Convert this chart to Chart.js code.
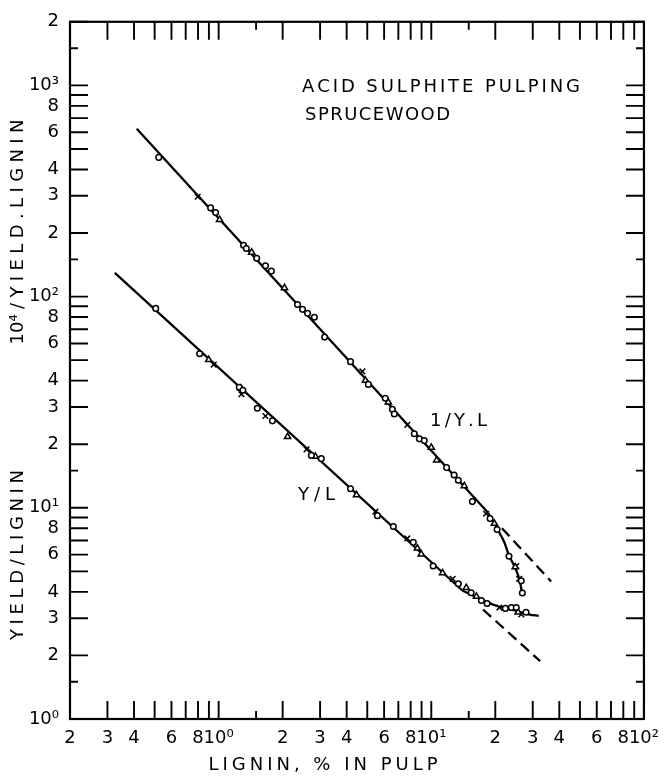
<!DOCTYPE html>
<html><head><meta charset="utf-8">
<script src="https://cdn.jsdelivr.net/npm/chart.js@4.4.1/dist/chart.umd.min.js"></script>
<style>html,body{margin:0;padding:0;background:#fff;}canvas{display:block;}</style>
</head><body>
<canvas id="c" width="668" height="778"></canvas>
<script>
// ---------- axis ticks ----------
const xTickValues = [0.2,0.3,0.4,0.5,0.6,0.7,0.8,0.9,1,1.5,2,3,4,5,6,7,8,9,10,15,20,30,40,50,60,70,80,90,100];
const xTickLabels = {"0.2":"2","0.3":"3","0.4":"4","0.6":"6","0.8":"8","1":"10\u2070","2":"2","3":"3","4":"4","6":"6","8":"8","10":"10\u00B9","20":"2","30":"3","40":"4","60":"6","80":"8","100":"10\u00B2"};
const yTickValues = [1,1.5,2,3,4,5,6,7,8,9,10,15,20,30,40,50,60,70,80,90,100,150,200,300,400,500,600,700,800,900,1000,1500,2000];
const yTickLabels = {"1":"10\u2070","2":"2","3":"3","4":"4","6":"6","8":"8","10":"10\u00B9","20":"2","30":"3","40":"4","60":"6","80":"8","100":"10\u00B2","200":"2","300":"3","400":"4","600":"6","800":"8","1000":"10\u00B3","2000":"2"};
const shortTicks = [1.5,15,150,1500];

// ---------- 1/Y.L  (10^4 / yield.lignin) ----------
const invCircleX = [0.523,0.917,0.968,1.31,1.35,1.51,1.66,1.77,2.35,2.48,2.62,2.82,3.15,4.17,5.06,6.08,6.56,6.70,8.32,8.79,9.27,11.8,12.8,13.4,15.6,18.9,20.4,23.2,26.5,26.8];
const invCircleY = [456,263,250,175,169,152,140,132,91.8,87.0,83.3,79.8,64.3,49.2,38.4,33.0,29.3,27.8,22.4,21.2,20.8,15.5,14.3,13.5,10.7,8.89,7.89,5.90,4.51,3.95];
const invTriX = [1.01,1.43,2.04,4.90,6.28,10.0,10.6,14.3,19.8,24.8];
const invTriY = [231,162,110,40.1,31.6,19.3,16.8,12.7,8.42,5.24];
const invCrossX = [0.797,4.74,7.71,18.1,25.1,25.9];
const invCrossY = [297,44.2,24.7,9.37,5.30,4.61];
const invFitX = [0.412,18.5];
const invFitY = [623,9.48];
const invDashX = [21.5,36.6];
const invDashY = [8.0,4.48];
const invCurveX = [18.5,20.4,22.0,23.2,25.0,26.0,26.8];
const invCurveY = [9.48,7.95,6.9,5.95,5.1,4.55,3.9];

// ---------- Y/L  (yield/lignin) ----------
const ylCircleX = [0.506,0.814,1.25,1.30,1.52,1.79,2.73,3.04,4.17,5.58,6.63,8.23,10.2,13.4,15.4,17.2,18.3,22.3,23.8,25.1,27.9];
const ylCircleY = [87.9,53.6,37.2,36.0,29.6,25.8,17.7,17.1,12.3,9.18,8.15,6.86,5.30,4.37,3.96,3.64,3.52,3.34,3.37,3.37,3.20];
const ylTriX = [0.898,1.27,2.11,2.85,4.45,8.60,8.97,11.3,14.6,16.3,25.6];
const ylTriY = [50.2,36.8,21.7,17.5,11.5,6.43,6.03,4.91,4.18,3.80,3.20];
const ylCrossX = [0.948,1.28,1.66,2.59,5.46,7.71,12.6,20.9,26.5];
const ylCrossY = [47.6,34.5,27.2,18.9,9.58,7.16,4.61,3.37,3.13];
const ylFitX = [0.325,14];
const ylFitY = [129.5,4.06];
const ylDashX = [17.5,32.5];
const ylDashY = [3.30,1.88];
const ylCurveX = [14,17.2,20,23,26,29,32];
const ylCurveY = [4.06,3.68,3.45,3.32,3.22,3.12,3.08];

// ---------- helpers ----------
const FONT = "'DejaVu Sans', sans-serif";
const pts = (xs, ys) => xs.map((x, i) => ({x: x, y: ys[i]}));
const marker = (xs, ys, style, r) => ({
  data: pts(xs, ys), showLine: false, pointStyle: style, pointRadius: r,
  pointBorderColor: '#000', pointBackgroundColor: '#fff', pointBorderWidth: 1.5, order: 1
});
const line = (xs, ys, dash, curved) => ({
  data: pts(xs, ys), showLine: true, borderColor: '#000', borderWidth: 2.3, borderDash: dash || [],
  pointRadius: 0, tension: curved ? 0.4 : 0, cubicInterpolationMode: curved ? 'monotone' : 'default',
  fill: false, order: 2
});

// draws text with even spacing; tokens keep superscripts tight to their base
function drawSpaced(ctx, tokens, x, y, width, align) {
  const w = tokens.map(c => ctx.measureText(c).width);
  const nat = w.reduce((a, b) => a + b, 0);
  const gap = tokens.length > 1 ? (width - nat) / (tokens.length - 1) : 0;
  let cx = align === 'center' ? x - width / 2 : x;
  ctx.textAlign = 'left';
  tokens.forEach((c, i) => { ctx.fillText(c, cx, y); cx += w[i] + gap; });
}
const chars = s => [...s];

const framePlugin = {
  id: 'frame',
  afterDraw(chart) {
    const ctx = chart.ctx, a = chart.chartArea;
    const xs = chart.scales.x, ys = chart.scales.y;
    ctx.save();
    ctx.strokeStyle = '#000';
    ctx.lineWidth = 2.2;
    ctx.strokeRect(a.left, a.top, a.right - a.left, a.bottom - a.top);
    ctx.lineWidth = 1.9;
    ctx.beginPath();
    xTickValues.forEach(v => {
      const p = xs.getPixelForValue(v);
      const len = shortTicks.includes(v) ? 8 : 18;
      ctx.moveTo(p, a.bottom); ctx.lineTo(p, a.bottom - len);
      ctx.moveTo(p, a.top); ctx.lineTo(p, a.top + len);
    });
    yTickValues.forEach(v => {
      const p = ys.getPixelForValue(v);
      const len = shortTicks.includes(v) ? 8 : 18;
      ctx.moveTo(a.left, p); ctx.lineTo(a.left + len, p);
      ctx.moveTo(a.right, p); ctx.lineTo(a.right - len, p);
    });
    ctx.stroke();

    ctx.fillStyle = '#000';
    ctx.font = '18px ' + FONT;
    ctx.textBaseline = 'alphabetic';
    drawSpaced(ctx, chars('ACID SULPHITE PULPING'), 302, 92, 278, 'left');
    drawSpaced(ctx, chars('SPRUCEWOOD'), 305, 120, 145, 'left');
    drawSpaced(ctx, chars('1/Y.L'), 430, 426, 57, 'left');
    drawSpaced(ctx, chars('Y/L'), 298, 500, 37, 'left');
    drawSpaced(ctx, chars('LIGNIN, % IN PULP'), 323, 770, 229, 'center');

    ctx.save();
    ctx.translate(23, 555);
    ctx.rotate(-Math.PI / 2);
    drawSpaced(ctx, chars('YIELD/LIGNIN'), 0, 0, 170, 'center');
    ctx.restore();
    ctx.save();
    ctx.translate(23, 232);
    ctx.rotate(-Math.PI / 2);
    drawSpaced(ctx, ['10\u2074'].concat(chars('/YIELD.LIGNIN')), 0, 0, 225, 'center');
    ctx.restore();
    ctx.restore();
  }
};

new Chart(document.getElementById('c'), {
  type: 'scatter',
  data: {
    datasets: [
      line(invFitX, invFitY),
      line(invDashX, invDashY, [11, 6]),
      line(invCurveX, invCurveY, [], true),
      line(ylFitX, ylFitY),
      line(ylDashX, ylDashY, [11, 6]),
      line(ylCurveX, ylCurveY, [], true),
      marker(invCircleX, invCircleY, 'circle', 2.8),
      marker(invTriX, invTriY, 'triangle', 3.6),
      marker(invCrossX, invCrossY, 'crossRot', 4),
      marker(ylCircleX, ylCircleY, 'circle', 2.8),
      marker(ylTriX, ylTriY, 'triangle', 3.6),
      marker(ylCrossX, ylCrossY, 'crossRot', 4)
    ]
  },
  options: {
    responsive: false,
    animation: false,
    events: [],
    layout: {padding: {left: 0, right: 23, top: 13, bottom: 0}},
    plugins: {legend: {display: false}, tooltip: {enabled: false}},
    scales: {
      x: {
        type: 'logarithmic', min: 0.2, max: 100, position: 'bottom',
        afterBuildTicks: s => { s.ticks = xTickValues.map(v => ({value: v})); },
        afterFit: s => { s.height = 59; },
        grid: {display: false, drawTicks: false},
        border: {display: false},
        ticks: {autoSkip: false, maxRotation: 0, minRotation: 0, padding: 9, color: '#000',
          font: {family: FONT, size: 18},
          callback: v => xTickLabels[String(v)] || ''}
      },
      y: {
        type: 'logarithmic', min: 1, max: 2000, position: 'left',
        afterBuildTicks: s => { s.ticks = yTickValues.map(v => ({value: v})); },
        afterFit: s => { s.width = 70; },
        grid: {display: false, drawTicks: false},
        border: {display: false},
        ticks: {autoSkip: false, padding: 11, color: '#000',
          font: {family: FONT, size: 18},
          callback: v => yTickLabels[String(v)] || ''}
      }
    }
  },
  plugins: [framePlugin]
});
</script>
</body></html>
